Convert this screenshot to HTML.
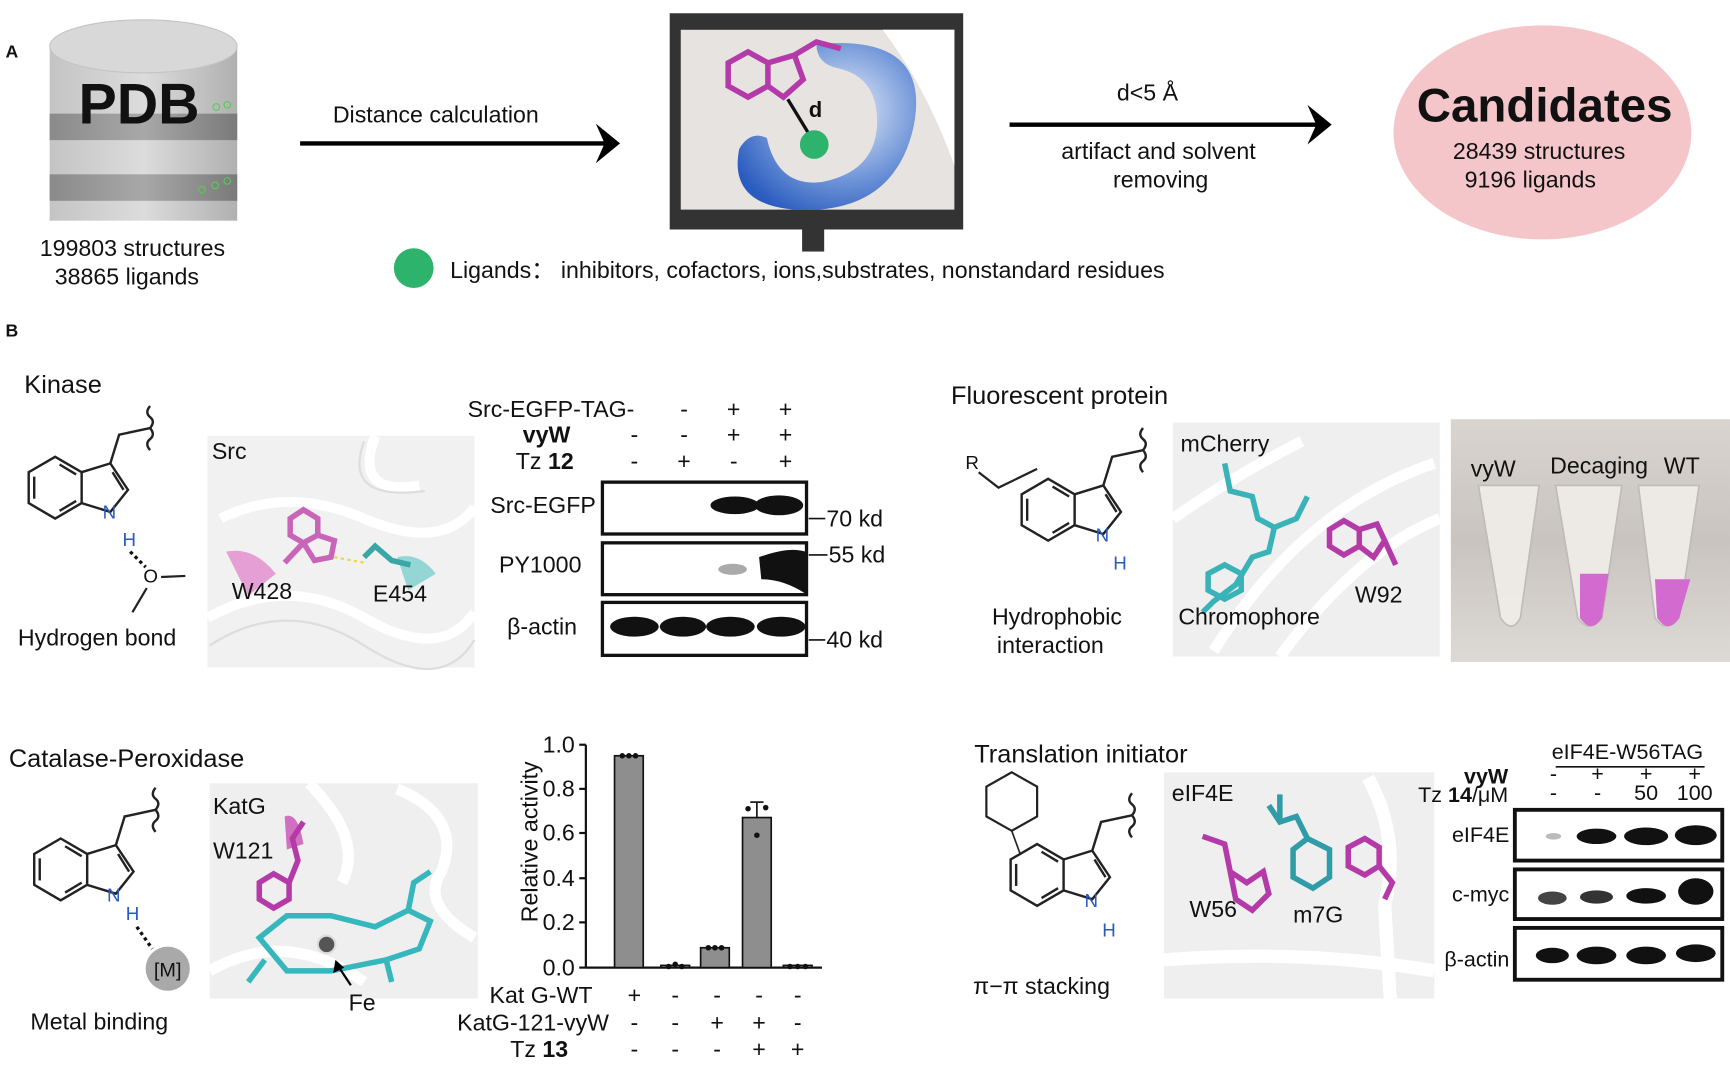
<!DOCTYPE html>
<html><head><meta charset="utf-8"><style>
html,body{margin:0;padding:0;background:#fff;width:1730px;height:1068px;overflow:hidden}
svg{display:block}
text{font-family:"Liberation Sans",sans-serif;fill:#111}
.t{font-size:21px}
.s{font-size:19.5px}
.m{text-anchor:middle}
.e{text-anchor:end}
.b{font-weight:bold}
</style></head><body>
<svg width="1730" height="1068" viewBox="0 0 1568 968" xmlns="http://www.w3.org/2000/svg">
<defs>
<linearGradient id="cyl" x1="0" x2="1"><stop offset="0" stop-color="#c4c4c4"/><stop offset=".5" stop-color="#dcdcdc"/><stop offset="1" stop-color="#b0b0b0"/></linearGradient>
<linearGradient id="band" x1="0" x2="1"><stop offset="0" stop-color="#8a8a8a"/><stop offset=".5" stop-color="#a8a8a8"/><stop offset="1" stop-color="#7a7a7a"/></linearGradient>
<linearGradient id="photo" x1="0" y1="0" x2="0" y2="1"><stop offset="0" stop-color="#d9d4cf"/><stop offset=".5" stop-color="#c9c4c0"/><stop offset="1" stop-color="#ddd9d5"/></linearGradient>
<radialGradient id="blue" cx=".6" cy=".4" r=".7"><stop offset="0" stop-color="#e8eefa"/><stop offset=".6" stop-color="#6f95d8"/><stop offset="1" stop-color="#2a5bbf"/></radialGradient>
<g id="ind" fill="none" stroke="#222" stroke-width="2.2">
<polygon points="0,-28 24,-14 24,14 0,28 -24,14 -24,-14"/>
<line x1="-19" y1="-10" x2="-19" y2="10"/><line x1="4" y1="-21" x2="19" y2="-12"/><line x1="4" y1="21" x2="19" y2="12"/>
<polyline points="24,-14 50,-22 66,2 50,22 24,14"/>
<line x1="52" y1="-14" x2="62" y2="2"/>
<polyline points="50,-22 58,-48 86,-54"/>
<path d="M86,-54 q5,-6 0,-10 q-5,-4 0,-10 M86,-54 q5,6 0,10 q-5,4 0,10"/>
</g>
</defs>

<!-- Panel A -->
<text x="5" y="52" class="b" style="font-size:16px">A</text>
<rect x="45" y="40" width="170" height="160" fill="url(#cyl)"/>
<rect x="45" y="103" width="170" height="24" fill="url(#band)"/>
<rect x="45" y="158" width="170" height="24" fill="url(#band)"/>
<ellipse cx="130" cy="42" rx="85" ry="24" fill="#d8d8d8" stroke="#c4c4c4"/>
<text x="126" y="112" class="m b" style="font-size:52px">PDB</text>
<circle cx="196" cy="97" r="3" fill="none" stroke="#5c5"/><circle cx="206" cy="95" r="3" fill="none" stroke="#5c5"/>
<circle cx="183" cy="172" r="3" fill="none" stroke="#5c5"/><circle cx="195" cy="168" r="3" fill="none" stroke="#5c5"/><circle cx="206" cy="164" r="3" fill="none" stroke="#5c5"/>
<text x="120" y="232" class="t m">199803 structures</text>
<text x="115" y="258" class="t m">38865  ligands</text>

<line x1="272" y1="130" x2="550" y2="130" stroke="#000" stroke-width="4"/>
<path d="M540,112 L562,130 L540,148 L548,130 Z" fill="#000"/>
<text x="395" y="111" class="t m">Distance calculation</text>

<rect x="607" y="12" width="266" height="196" fill="#333"/>
<rect x="617" y="27" width="248" height="163" fill="#e6e3e1"/>
<path d="M800,27 L865,27 L865,150 Q840,80 800,27 Z" fill="#fff"/>
<path d="M740,40 Q845,30 828,115 Q810,195 720,190 Q660,185 670,135 Q680,118 695,125 Q705,170 745,165 Q795,155 795,110 Q795,70 760,62 Q740,58 740,40 Z" fill="url(#blue)"/>
<g fill="none" stroke="#b33aa8" stroke-width="5"><polygon points="660,57 678,47 696,57 696,78 678,88 660,78"/><polyline points="696,57 720,50 728,72 710,88 696,78"/><polyline points="720,50 740,38 762,44"/></g>
<line x1="714" y1="90" x2="736" y2="126" stroke="#111" stroke-width="3"/>
<circle cx="738" cy="131" r="13" fill="#2db36b"/>
<text x="733" y="106" class="b" style="font-size:20px">d</text>
<rect x="727" y="208" width="20" height="20" fill="#333"/>

<circle cx="375" cy="243" r="18" fill="#2db36b"/>
<text x="408" y="252" class="t">Ligands：  inhibitors, cofactors, ions,substrates, nonstandard residues</text>

<line x1="915" y1="113" x2="1195" y2="113" stroke="#000" stroke-width="4"/>
<path d="M1185,95 L1207,113 L1185,131 L1193,113 Z" fill="#000"/>
<text x="1040" y="91" class="t m">d&lt;5  Å</text>
<text x="1050" y="144" class="t m">artifact and solvent</text>
<text x="1052" y="170" class="t m">removing</text>

<ellipse cx="1398" cy="120" rx="135" ry="97" fill="#f4c6c9"/>
<text x="1400" y="110" class="m b" style="font-size:43px">Candidates</text>
<text x="1395" y="144" class="t m">28439 structures</text>
<text x="1387" y="170" class="t m">9196 ligands</text>

<!-- Panel B -->
<text x="5" y="305" class="b" style="font-size:16px">B</text>

<!-- Kinase -->
<text x="22" y="356" style="font-size:23px">Kinase</text>
<use href="#ind" x="50" y="442"/>
<text x="93" y="470" style="font-size:17px;fill:#2a5bbf">N</text>
<text x="111" y="495" style="font-size:17px;fill:#2a5bbf">H</text>
<line x1="118" y1="500" x2="132" y2="514" stroke="#111" stroke-width="3" stroke-dasharray="3,3"/>
<text x="130" y="528" style="font-size:17px">O</text>
<line x1="146" y1="523" x2="168" y2="522" stroke="#222" stroke-width="2"/>
<line x1="133" y1="533" x2="120" y2="555" stroke="#222" stroke-width="2"/>
<text x="88" y="585" class="t m">Hydrogen bond</text>

<rect x="188" y="395" width="242" height="210" fill="#f1f1f1"/>
<g fill="none" stroke="#fff" stroke-width="9"><path d="M200,470 Q260,440 330,470 T430,460"/><path d="M188,560 Q260,520 330,560 T430,555"/><path d="M340,395 Q320,450 380,440"/></g>
<g fill="none" stroke="#ddd" stroke-width="2"><path d="M190,585 Q260,540 330,585 T430,580"/><path d="M330,400 Q310,455 385,445"/></g>
<path d="M205,500 Q230,495 250,520 L225,540 Z" fill="#e07cc8" opacity=".7"/>
<path d="M360,505 Q380,500 395,520 L370,535 Z" fill="#6cc9c9" opacity=".7"/>
<g fill="none" stroke="#c965b9" stroke-width="5"><polygon points="263,470 275,462 288,470 288,485 275,492 263,485"/><polyline points="288,485 303,490 300,505 285,508 275,492"/><line x1="275" y1="492" x2="258" y2="510"/></g>
<line x1="303" y1="505" x2="330" y2="510" stroke="#e8d84a" stroke-width="2" stroke-dasharray="3,3"/>
<polyline points="330,505 340,495 355,508 372,512" fill="none" stroke="#3aa6a6" stroke-width="5"/>
<text x="192" y="416" class="t">Src</text>
<text x="210" y="543" class="t">W428</text>
<text x="338" y="545" class="t">E454</text>

<text x="575" y="378" class="t e">Src-EGFP-TAG-</text>
<text x="517" y="401" class="t e b">vyW</text>
<text x="520" y="425" class="t e">Tz <tspan class="b">12</tspan></text>
<g class="t m"><text x="620" y="378">-</text><text x="665" y="378">+</text><text x="712" y="378">+</text>
<text x="575" y="401">-</text><text x="620" y="401">-</text><text x="665" y="401">+</text><text x="712" y="401">+</text>
<text x="575" y="425">-</text><text x="620" y="425">+</text><text x="665" y="425">-</text><text x="712" y="425">+</text></g>
<g fill="#fff" stroke="#111" stroke-width="3"><rect x="546" y="437" width="185" height="47"/><rect x="546" y="492" width="185" height="47"/><rect x="546" y="546" width="185" height="48"/></g>
<g fill="#111"><ellipse cx="666" cy="458" rx="22" ry="8"/><ellipse cx="706" cy="458" rx="22" ry="9"/>
<ellipse cx="664" cy="516" rx="13" ry="5" fill="#aaa"/><path d="M688,505 Q715,495 730,500 L730,538 Q710,525 690,525 Z"/>
<ellipse cx="575" cy="568" rx="22" ry="9"/><ellipse cx="619" cy="568" rx="21" ry="9"/><ellipse cx="662" cy="568" rx="22" ry="9"/><ellipse cx="708" cy="568" rx="22" ry="9"/></g>
<text x="540" y="465" class="t e">Src-EGFP</text>
<text x="527" y="519" class="t e">PY1000</text>
<text x="523" y="575" class="t e">β-actin</text>
<g stroke="#111" stroke-width="1.5"><line x1="733" y1="470" x2="748" y2="470"/><line x1="733" y1="503" x2="750" y2="503"/><line x1="733" y1="580" x2="748" y2="580"/></g>
<text x="749" y="477" class="t">70 kd</text><text x="751" y="510" class="t">55 kd</text><text x="749" y="587" class="t">40 kd</text>

<!-- Fluorescent -->
<text x="862" y="366" style="font-size:23px">Fluorescent protein</text>
<text x="875" y="425" style="font-size:17px">R</text>
<polyline points="887,428 905,442 940,425" fill="none" stroke="#222" stroke-width="2"/>
<use href="#ind" x="950" y="462"/>
<text x="993" y="491" style="font-size:17px;fill:#2a5bbf">N</text>
<text x="1009" y="516" style="font-size:17px;fill:#2a5bbf">H</text>
<text x="958" y="566" class="t m">Hydrophobic</text>
<text x="952" y="592" class="t m">interaction</text>

<rect x="1063" y="383" width="242" height="212" fill="#efefef"/>
<g fill="none" stroke="#fff" stroke-width="10"><path d="M1100,590 Q1180,460 1300,420"/><path d="M1160,595 Q1230,500 1305,470"/><path d="M1063,470 Q1120,430 1180,400"/></g>
<g fill="none" stroke="#3ab3b8" stroke-width="5"><polyline points="1110,420 1115,445 1135,450 1140,470 1155,478 1150,500 1135,505 1120,530 1100,545 1090,555"/><polyline points="1155,478 1175,470 1185,450"/><polygon points="1095,520 1110,512 1125,520 1125,535 1110,543 1095,535"/></g>
<g fill="none" stroke="#b43aa8" stroke-width="5"><polygon points="1205,480 1218,472 1232,480 1232,495 1218,503 1205,495"/><polyline points="1232,480 1248,475 1255,490 1245,505 1232,495"/><line x1="1255" y1="490" x2="1265" y2="512"/></g>
<text x="1070" y="409" class="t">mCherry</text>
<text x="1068" y="566" class="t">Chromophore</text>
<text x="1228" y="546" class="t">W92</text>

<rect x="1315" y="380" width="253" height="220" fill="url(#photo)"/>
<g fill="#f1eeea" stroke="#bbb" stroke-width="1.5" opacity=".9">
<path d="M1340,440 L1395,440 L1378,560 Q1370,575 1360,560 Z"/>
<path d="M1410,440 L1470,440 L1452,560 Q1440,575 1430,560 Z"/>
<path d="M1485,440 L1540,440 L1522,560 Q1510,575 1500,560 Z"/></g>
<path d="M1432,520 L1458,520 L1452,560 Q1442,575 1432,560 Z" fill="#d26ad0"/>
<path d="M1500,525 L1532,525 L1522,560 Q1512,575 1502,560 Z" fill="#d26ad0"/>
<text x="1333" y="432" class="t">vyW</text>
<text x="1405" y="429" class="t">Decaging</text>
<text x="1508" y="429" class="t">WT</text>

<!-- Catalase -->
<text x="8" y="695" style="font-size:23px">Catalase-Peroxidase</text>
<use href="#ind" x="55" y="788"/>
<text x="97" y="817" style="font-size:17px;fill:#2a5bbf">N</text>
<text x="114" y="834" style="font-size:17px;fill:#2a5bbf">H</text>
<line x1="124" y1="840" x2="138" y2="860" stroke="#111" stroke-width="3" stroke-dasharray="3,3"/>
<circle cx="152" cy="878" r="20" fill="#a9a9a9"/>
<text x="152" y="885" class="m" style="font-size:18px">[M]</text>
<text x="90" y="933" class="t m">Metal binding</text>

<rect x="190" y="710" width="243" height="195" fill="#efefef"/>
<g fill="none" stroke="#fff" stroke-width="10"><path d="M280,710 Q330,760 310,800"/><path d="M360,715 Q420,740 400,790 Q380,820 430,850"/><path d="M190,880 Q260,840 330,890"/></g>
<path d="M258,740 Q270,735 275,765 L260,770 Z" fill="#d070c0"/>
<g fill="none" stroke="#b43aa8" stroke-width="5"><polygon points="235,800 248,792 262,800 262,815 248,823 235,815"/><polyline points="262,800 270,780 265,760 275,745"/></g>
<g fill="none" stroke="#36b7bd" stroke-width="5"><path d="M235,850 L260,830 L300,830 L340,840 L370,825 L390,835 L380,860 L350,870 L300,880 L260,880 Z"/><path d="M240,870 L225,890"/><path d="M370,825 L375,800 L390,790"/><path d="M350,870 L355,890"/></g>
<circle cx="296" cy="856" r="8" fill="#555" stroke="#ddd" stroke-width="2"/>
<line x1="306" y1="875" x2="318" y2="893" stroke="#000" stroke-width="2"/><path d="M304,870 L302,882 L312,877 Z" fill="#000"/>
<text x="193" y="738" class="t">KatG</text>
<text x="193" y="778" class="t">W121</text>
<text x="316" y="916" class="t">Fe</text>

<!-- bar chart -->
<g stroke="#111" stroke-width="2"><line x1="531" y1="675" x2="531" y2="877"/><line x1="531" y1="877" x2="745" y2="877"/>
<line x1="525" y1="675" x2="531" y2="675"/><line x1="525" y1="715" x2="531" y2="715"/><line x1="525" y1="755" x2="531" y2="755"/><line x1="525" y1="796" x2="531" y2="796"/><line x1="525" y1="836" x2="531" y2="836"/><line x1="525" y1="877" x2="531" y2="877"/></g>
<g class="t e"><text x="521" y="682">1.0</text><text x="521" y="722">0.8</text><text x="521" y="762">0.6</text><text x="521" y="803">0.4</text><text x="521" y="843">0.2</text><text x="521" y="884">0.0</text></g>
<text transform="translate(487,763) rotate(-90)" class="t m">Relative activity</text>
<g fill="#8e8e8e" stroke="#111" stroke-width="1.5"><rect x="557" y="685" width="26" height="192"/><rect x="599" y="875" width="26" height="2"/><rect x="635" y="859" width="26" height="18"/><rect x="673" y="741" width="26" height="136"/><rect x="710" y="875" width="26" height="2"/></g>
<g stroke="#111" stroke-width="1.5"><line x1="686" y1="741" x2="686" y2="727"/><line x1="680" y1="727" x2="692" y2="727"/></g>
<g fill="#111"><circle cx="564" cy="685" r="2.5"/><circle cx="570" cy="685" r="2.5"/><circle cx="576" cy="685" r="2.5"/><circle cx="606" cy="876" r="2.5"/><circle cx="612" cy="874" r="2.5"/><circle cx="618" cy="876" r="2.5"/><circle cx="642" cy="859" r="2.5"/><circle cx="648" cy="859" r="2.5"/><circle cx="654" cy="859" r="2.5"/><circle cx="678" cy="733" r="2.5"/><circle cx="694" cy="732" r="2.5"/><circle cx="686" cy="757" r="2.5"/><circle cx="716" cy="876" r="2.5"/><circle cx="723" cy="876" r="2.5"/><circle cx="730" cy="876" r="2.5"/></g>
<text x="537" y="909" class="t e">Kat G-WT</text>
<text x="552" y="934" class="t e">KatG-121-vyW</text>
<text x="515" y="958" class="t e">Tz <tspan class="b">13</tspan></text>
<g class="t m"><text x="575" y="909">+</text><text x="612" y="909">-</text><text x="650" y="909">-</text><text x="688" y="909">-</text><text x="723" y="909">-</text>
<text x="575" y="934">-</text><text x="612" y="934">-</text><text x="650" y="934">+</text><text x="688" y="934">+</text><text x="723" y="934">-</text>
<text x="575" y="958">-</text><text x="612" y="958">-</text><text x="650" y="958">-</text><text x="688" y="958">+</text><text x="723" y="958">+</text></g>

<!-- Translation initiator -->
<text x="883" y="691" style="font-size:23px">Translation initiator</text>
<polygon points="917,700 940,713 940,740 917,753 894,740 894,713" fill="none" stroke="#222" stroke-width="2"/>
<line x1="917" y1="753" x2="925" y2="775" stroke="#222" stroke-width="1.5"/>
<use href="#ind" x="940" y="793"/>
<text x="983" y="822" style="font-size:17px;fill:#2a5bbf">N</text>
<text x="999" y="849" style="font-size:17px;fill:#2a5bbf">H</text>
<text x="944" y="901" class="t m">π−π stacking</text>

<rect x="1055" y="700" width="245" height="205" fill="#efefef"/>
<g fill="none" stroke="#fff" stroke-width="12"><path d="M1055,870 Q1180,860 1300,880"/><path d="M1240,705 Q1270,760 1255,820 L1260,905"/></g>
<g fill="none" stroke="#b43aa8" stroke-width="5"><polyline points="1090,758 1110,765 1115,790 1130,800 1145,790 1150,810 1135,825 1120,815 1115,790"/><polygon points="1222,768 1237,760 1250,768 1250,785 1237,793 1222,785"/><polyline points="1250,785 1262,800 1255,815"/></g>
<g fill="none" stroke="#2f9ca8" stroke-width="5"><polyline points="1150,730 1160,745 1175,740 1185,760 1205,770 1205,795 1190,805 1172,795 1172,770 1185,760"/><line x1="1160" y1="720" x2="1160" y2="745"/></g>
<text x="1062" y="726" class="t">eIF4E</text>
<text x="1078" y="831" class="t">W56</text>
<text x="1172" y="836" class="t">m7G</text>

<text x="1475" y="688" class="m s">eIF4E-W56TAG</text>
<line x1="1410" y1="695" x2="1545" y2="695" stroke="#111" stroke-width="1.5"/>
<text x="1367" y="710" class="e b s">vyW</text>
<text x="1367" y="727" class="e s">Tz <tspan class="b">14</tspan>/μM</text>
<g class="m s"><text x="1408" y="708">-</text><text x="1448" y="708">+</text><text x="1492" y="708">+</text><text x="1536" y="708">+</text>
<text x="1408" y="725">-</text><text x="1448" y="725">-</text><text x="1492" y="725">50</text><text x="1536" y="725">100</text></g>
<g fill="#fff" stroke="#111" stroke-width="3.5"><rect x="1373" y="734" width="188" height="46"/><rect x="1373" y="788" width="188" height="45"/><rect x="1373" y="841" width="188" height="47"/></g>
<g fill="#111"><ellipse cx="1408" cy="758" rx="7" ry="3" fill="#bbb"/><ellipse cx="1447" cy="758" rx="18" ry="7"/><ellipse cx="1492" cy="758" rx="20" ry="8"/><ellipse cx="1537" cy="757" rx="19" ry="9"/>
<ellipse cx="1407" cy="814" rx="13" ry="6" fill="#444"/><ellipse cx="1447" cy="813" rx="15" ry="6" fill="#333"/><ellipse cx="1492" cy="812" rx="18" ry="7"/><ellipse cx="1537" cy="808" rx="16" ry="12"/>
<ellipse cx="1407" cy="866" rx="15" ry="7"/><ellipse cx="1447" cy="866" rx="18" ry="8"/><ellipse cx="1492" cy="866" rx="18" ry="8"/><ellipse cx="1537" cy="864" rx="18" ry="8"/></g>
<text x="1368" y="763" class="e s">eIF4E</text>
<text x="1368" y="817" class="e s">c-myc</text>
<text x="1368" y="876" class="e s">β-actin</text>
</svg>
</body></html>
